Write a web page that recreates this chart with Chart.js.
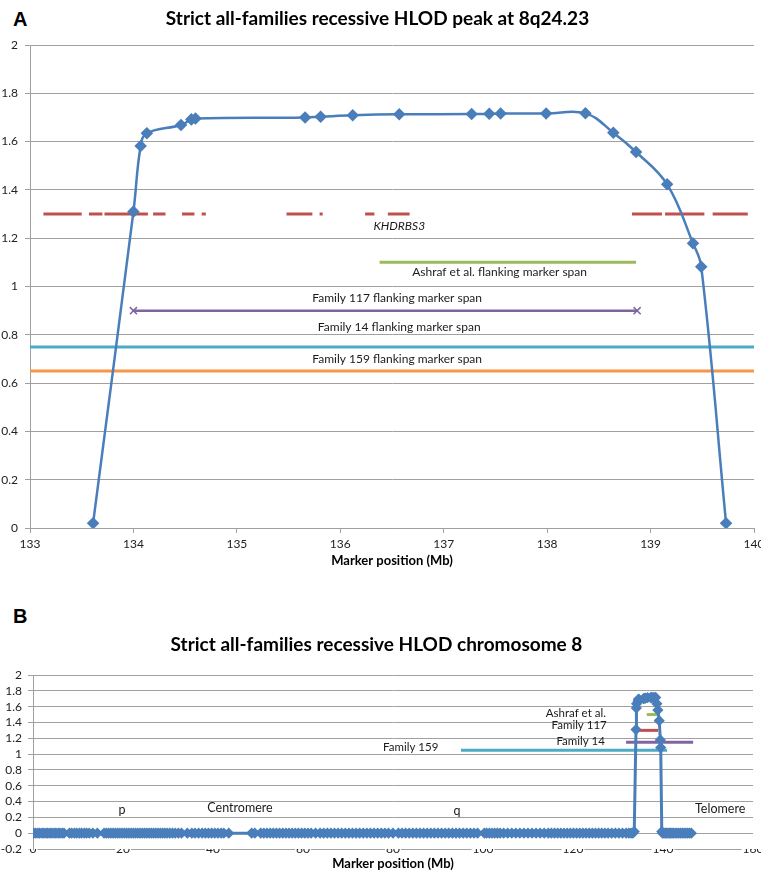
<!DOCTYPE html>
<html>
<head>
<meta charset="utf-8">
<script src="https://cdn.jsdelivr.net/npm/chart.js@4.4.1/dist/chart.umd.min.js"></script>
<style>
body{margin:0;background:#fff;width:761px;height:873px;position:relative;overflow:hidden}
canvas{position:absolute;left:0}
.tag{position:absolute;left:13px;font:bold 20px/20px "Liberation Sans",Arial,sans-serif;color:#000}
</style>
</head>
<body>
<div class="tag" style="top:9px">A</div>
<canvas id="chartA" width="761" height="575" style="top:0"></canvas>
<div class="tag" style="top:606px">B</div>
<canvas id="chartB" width="761" height="293" style="top:580px"></canvas>
<script>
const posPico = [133.61, 134.0, 134.07, 134.13, 134.46, 134.56, 134.6, 135.66, 135.81, 136.12, 136.57,
  137.27, 137.44, 137.55, 137.99, 138.37, 138.64, 138.86, 139.16, 139.41, 139.49, 139.73]
const hlodPico = [0.02, 1.31, 1.582, 1.635, 1.669, 1.692, 1.696, 1.70, 1.703, 1.709, 1.713,
  1.714, 1.715, 1.716, 1.716, 1.717, 1.637, 1.557, 1.423, 1.179, 1.082, 0.02]

// blocos do gene KHDRBS3 (inicio / fim, Mb)
const khdrbsIni = [133.13, 133.57, 133.72, 134.19, 134.47, 134.66, 135.48, 135.80, 136.24, 136.46, 138.82, 139.14, 139.60]
const khdrbsFim = [133.50, 133.70, 134.14, 134.31, 134.59, 134.70, 135.73, 135.83, 136.33, 136.67, 139.11, 139.52, 139.94]

// spans de marcadores flanqueadores [inicio, fim] e altura no grafico A
const ashrafA = [136.38, 138.86], ashrafYA = 1.1
const fam117A = [134.0, 138.87], fam117YA = 0.9
const fam14A = [133, 140], fam14YA = 0.75
const fam159A = [133, 140], fam159YA = 0.65
const khdrbsY = 1.3

// grafico B: cromossomo 8 inteiro
const zerosAntes = [0.2, 0.6, 1.1, 1.5, 2.0, 2.4, 2.9, 3.3, 3.8, 4.2, 4.7, 5.1, 5.6, 6.0, 6.5, 6.9,
  8.1, 8.6, 9.2, 9.7, 10.3, 10.8, 11.4, 11.9, 12.5, 13.3, 14.3,
  15.8, 16.3, 16.8, 17.3, 17.8, 18.3, 18.8, 19.3, 19.8, 20.3, 20.8, 21.3, 21.8, 22.3, 22.8, 23.3, 23.8,
  24.3, 24.8, 25.3, 25.8, 26.3, 26.8, 27.3, 27.8, 28.3, 28.8, 29.3, 29.8, 30.4, 31.0, 31.6, 32.3, 33.0,
  34.3, 35.3, 36.0, 36.8, 37.6, 38.3, 39.0, 39.7, 40.4, 41.1, 41.8, 42.4, 43.5,
  48.6, 49.3, 50.6, 51.3, 52.0, 52.7, 53.4, 54.1, 54.8, 55.5, 56.2, 56.9, 57.6, 58.3, 59.0, 59.7, 60.4,
  61.1, 61.8, 62.8, 63.8, 64.6, 65.4, 66.2, 67.0, 67.8, 68.6, 69.4, 70.2, 71.0, 71.8, 72.6, 73.4, 74.2,
  75.0, 75.8, 76.6, 77.4, 78.2, 79.0, 80.0, 81.2, 82.0, 82.8, 83.6, 84.4, 85.2, 86.0, 86.8, 87.6, 88.4,
  89.2, 90.0, 90.8, 91.6, 92.4, 93.2, 94.0, 94.8, 95.6, 96.4, 97.2, 98.0, 98.8,
  100.3, 100.8, 101.4, 102.0, 102.6, 103.2, 103.8, 104.6, 105.5, 106.4, 107.3, 108.2, 109.1, 110.0,
  110.9, 111.8, 112.7, 113.6, 114.5, 115.2, 115.9, 116.6, 117.3, 118.0, 118.7, 119.4, 120.1, 120.8,
  121.5, 122.2, 122.9, 123.6, 124.3, 125.0, 125.7, 126.4, 127.1, 127.8, 128.6, 129.4, 130.2, 131.0,
  131.8, 132.4, 132.9, 133.3]
const zerosDepois = [139.9, 140.2, 140.5, 140.8, 141.1, 141.4, 141.7, 142.0, 142.3, 142.7, 143.1,
  143.5, 143.9, 144.3, 144.7, 145.1, 145.5, 145.9, 146.3]

const ashrafB = [136.4, 138.9], ashrafYB = 1.5
const fam117B = [134.0, 138.9], fam117YB = 1.3
const fam14B = [131.8, 146.7], fam14YB = 1.15
const fam159B = [95.1, 140.9], fam159YB = 1.05

const azul = '#4a7ebb'
const cinza = '#a0a0a0'
const fonte = 'Lato, "Open Sans", sans-serif'

const fmt = v => String(+v.toFixed(1))
const span = (xs, y) => [{x: xs[0], y}, {x: xs[1], y}]

// escreve os textos soltos dentro do grafico
const notasPlugin = {
  id: 'notas',
  afterDatasetsDraw(chart, args, opts) {
    const {ctx, scales} = chart
    ctx.save()
    ctx.fillStyle = '#1a1a1a'
    ctx.textBaseline = 'middle'
    opts.itens.forEach(n => {
      ctx.font = (n.italic ? 'italic ' : '') + (n.size || 12) + 'px ' + fonte
      ctx.textAlign = n.align || 'center'
      ctx.fillText(n.text, scales.x.getPixelForValue(n.x), scales.y.getPixelForValue(n.y))
    })
    ctx.restore()
  }
}

const linha = (data, cor, extra) => Object.assign({
  data, borderColor: cor, backgroundColor: cor, borderWidth: 3, pointRadius: 0, tension: 0
}, extra || {})

const opcoes = (cfg) => ({
  responsive: false,
  animation: false,
  layout: {padding: {left: 0, right: cfg.dir, top: 0, bottom: 0}},
  plugins: {
    legend: {display: false},
    tooltip: {enabled: false},
    title: {
      display: true, text: cfg.titulo, color: '#000',
      font: {family: fonte, size: 19, weight: 'bold'},
      padding: cfg.tituloPad
    },
    notas: {itens: cfg.notas}
  },
  scales: {
    x: {
      type: 'linear', min: cfg.xmin, max: cfg.xmax,
      afterFit: s => { s.height = cfg.xAltura; s.paddingLeft = 0; s.paddingRight = 0 },
      ticks: {stepSize: cfg.xpasso, padding: cfg.xTickPad, color: '#222', font: {family: fonte, size: 12},
        maxRotation: 0, autoSkip: false, showLabelBackdrop: cfg.backdrop, backdropColor: '#fff', backdropPadding: 1},
      grid: {drawOnChartArea: false, tickLength: cfg.xTick, color: cinza},
      border: {color: cinza},
      title: {display: true, text: 'Marker position (Mb)', color: '#000',
        font: {family: fonte, size: 13, weight: 'bold'}, padding: {top: 0, bottom: cfg.xTitPad}}
    },
    y: {
      min: cfg.ymin, max: 2,
      afterFit: s => { s.width = cfg.yLargura },
      ticks: {stepSize: 0.2, callback: fmt, padding: cfg.yTickPad, autoSkip: false, color: '#222',
        font: {family: fonte, size: 12}},
      grid: {color: cinza, tickLength: 5},
      border: {color: cinza}
    }
  }
})

// pontos do KHDRBS3 com quebras entre os blocos
const khdrbsPts = []
khdrbsIni.forEach((ini, i) => {
  khdrbsPts.push({x: ini, y: khdrbsY}, {x: khdrbsFim[i], y: khdrbsY}, {x: khdrbsFim[i], y: null})
})

new Chart(document.getElementById('chartA'), {
  type: 'line',
  plugins: [notasPlugin],
  data: {
    datasets: [
      linha(posPico.map((x, i) => ({x, y: hlodPico[i]})), azul,
        {borderWidth: 2.5, tension: 0.4, pointStyle: 'rectRot', pointRadius: 4.5}),
      linha(khdrbsPts, '#c0504d', {spanGaps: false}),
      linha(span(ashrafA, ashrafYA), '#9bbb59'),
      linha(span(fam117A, fam117YA), '#8064a2',
        {borderWidth: 2.5, pointStyle: 'crossRot', pointRadius: 5, pointBorderWidth: 1.5}),
      linha(span(fam14A, fam14YA), '#4bacc6'),
      linha(span(fam159A, fam159YA), '#f79646')
    ]
  },
  options: opcoes({
    titulo: 'Strict all-families recessive HLOD peak at 8q24.23',
    tituloPad: {top: 7.6, bottom: 14.6},
    dir: 6, xmin: 133, xmax: 140, xpasso: 1, ymin: 0,
    xAltura: 47, xTick: 5, xTickPad: 4, xTitPad: 6.2, backdrop: false,
    yLargura: 30, yTickPad: 7,
    notas: [
      {text: 'KHDRBS3', x: 136.57, y: 1.25, italic: true},
      {text: 'Ashraf et al. flanking marker span', x: 137.54, y: 1.06},
      {text: 'Family 117 flanking marker span', x: 136.55, y: 0.952},
      {text: 'Family 14 flanking marker span', x: 136.57, y: 0.832},
      {text: 'Family 159 flanking marker span', x: 136.55, y: 0.70}
    ]
  })
})

const cromo = [
  ...zerosAntes.map(x => ({x, y: 0})),
  ...posPico.map((x, i) => ({x, y: hlodPico[i]})),
  ...zerosDepois.map(x => ({x, y: 0}))
]

new Chart(document.getElementById('chartB'), {
  type: 'line',
  plugins: [notasPlugin],
  data: {
    datasets: [
      linha(cromo, azul, {borderWidth: 3, pointStyle: 'rectRot', pointRadius: 3.5}),
      linha(span(ashrafB, ashrafYB), '#9bbb59'),
      linha(span(fam117B, fam117YB), '#c0504d'),
      linha(span(fam14B, fam14YB), '#8064a2'),
      linha(span(fam159B, fam159YB), '#4bacc6')
    ]
  },
  options: opcoes({
    titulo: 'Strict all-families recessive HLOD chromosome 8',
    tituloPad: {top: 53.6, bottom: 18.6},
    dir: 8, xmin: 0, xmax: 160, xpasso: 20, ymin: -0.2,
    xAltura: 24, xTick: 0, xTickPad: -7.2, xTitPad: 1.2, backdrop: true,
    yLargura: 33, yTickPad: 6,
    notas: [
      {text: 'Ashraf et al.', x: 127.3, y: 1.51, align: 'right', size: 11.5},
      {text: 'Family 117', x: 127.5, y: 1.36, align: 'right', size: 11.5},
      {text: 'Family 14', x: 127.1, y: 1.16, align: 'right', size: 11.5},
      {text: 'Family 159', x: 77.8, y: 1.085, align: 'left', size: 11.5},
      {text: 'p', x: 19.8, y: 0.29, size: 12.5},
      {text: 'Centromere', x: 46, y: 0.32, size: 12.5},
      {text: 'q', x: 94.2, y: 0.28, size: 12.5},
      {text: 'Telomere', x: 152.7, y: 0.30, size: 12.5}
    ]
  })
})
</script>
</body>
</html>
